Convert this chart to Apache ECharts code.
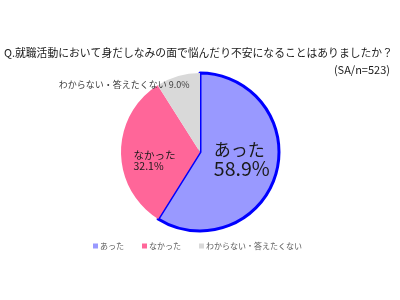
<!DOCTYPE html>
<html>
<head>
<meta charset="utf-8">
<script src="https://cdn.jsdelivr.net/npm/echarts@6/dist/echarts.min.js"></script>
<style>
  html, body { margin: 0; padding: 0; background: #fff; }
  #main { width: 400px; height: 300px; }
</style>
</head>
<body>
<div id="main"></div>
<script>
// 回答データ
var categories = ["あった", "なかった", "わからない・答えたくない"];
var values = [58.9, 32.1, 9.0];
var colors = ["#9999FF", "#FF6699", "#D9D9D9"];

var FONT = '"Noto Sans CJK JP", sans-serif';
var chart = echarts.init(document.getElementById("main"));

function twoLine(p) {
  return "{n|" + p.name + "}\n{v|" + p.value.toFixed(1) + "%}";
}

var pieData = categories.map(function (name, i) {
  return { name: name, value: values[i], itemStyle: { color: colors[i] } };
});
// あった: 青い太枠
pieData[0].itemStyle.borderColor = "#0000FF";
pieData[0].itemStyle.borderWidth = 3;
pieData[0].label = {
  offset: [1, -5],
  formatter: twoLine,
  rich: {
    n: { fontSize: 17, lineHeight: 19, width: 56, align: "left", color: "#1a1a1a", fontFamily: FONT },
    v: { fontSize: 19.5, lineHeight: 19, width: 56, align: "left", color: "#1a1a1a", fontFamily: FONT }
  }
};
pieData[1].label = {
  offset: [-4, 8],
  formatter: twoLine,
  rich: {
    n: { fontSize: 10.5, lineHeight: 11, width: 40, align: "left", color: "#1a1a1a", fontFamily: FONT },
    v: { fontSize: 10.5, lineHeight: 11, width: 40, align: "left", color: "#1a1a1a", fontFamily: FONT }
  }
};
pieData[2].label = {
  fontSize: 9,
  color: "#404040",
  offset: [-64, -27],
  formatter: function (p) { return p.name + " " + p.value.toFixed(1) + "%"; }
};

var option = {
  animation: false,
  textStyle: { fontFamily: FONT },
  title: [
    {
      text: "Q.就職活動において身だしなみの面で悩んだり不安になることはありましたか？",
      left: -1,
      top: 43,
      textStyle: { fontSize: 10.8, fontWeight: "normal", color: "#1a1a1a", fontFamily: FONT }
    },
    {
      text: "(SA/n=523)",
      right: 5,
      top: 59,
      textStyle: { fontSize: 11, fontWeight: "normal", color: "#1a1a1a", fontFamily: FONT }
    }
  ],
  legend: {
    top: 237,
    left: 88,
    itemWidth: 5,
    itemHeight: 5,
    itemGap: 18,
    icon: "rect",
    itemStyle: { borderWidth: 0 },
    textStyle: { fontSize: 8, color: "#595959", fontFamily: FONT, padding: [0, 0, 0, -3] },
    data: categories
  },
  series: [
    {
      type: "pie",
      center: [200, 152],
      radius: 79,
      startAngle: 90,
      clockwise: true,
      label: { show: true, position: "inside", fontFamily: FONT },
      labelLine: { show: false },
      emphasis: { disabled: true },
      data: pieData
    }
  ]
};
chart.setOption(option);
</script>
</body>
</html>
